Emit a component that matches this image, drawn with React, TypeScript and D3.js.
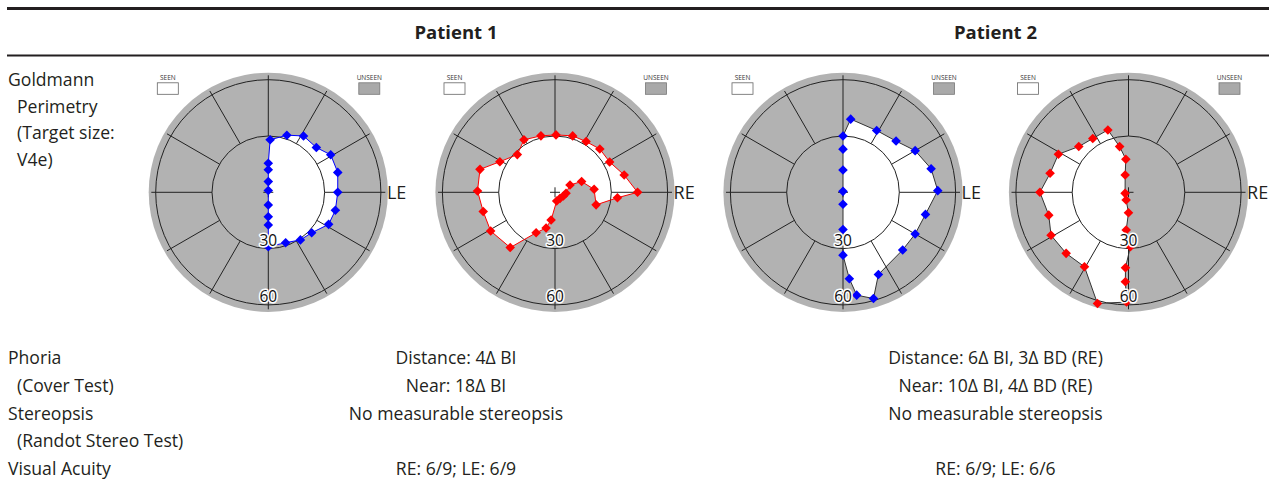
import React from "react";
import * as d3 from "d3";

type Pt = [number, number]; // [meridian angle in degrees (0 = right, 90 = up), eccentricity in degrees]

const patients = ["Patient 1", "Patient 2"];
const eyeLabels = ["LE", "RE", "LE", "RE"];
const ringTicks = [30, 60];
const spokeAngles = [0, 30, 60, 90, 120, 150, 180, 210, 240, 270, 300, 330];

// Patient 1, left eye
const p1LE: Pt[] = [
  [88, 28], [72, 32], [58, 35.4], [43, 35], [31, 38.8], [16, 38.5], [0, 37],
  [-15, 37], [-28, 36.4], [-43, 31.6], [-56, 30.6], [-71, 28.4], [-90, 29],
  [-90, 17.4], [-90, 13], [-90, 6.8], [90, 1], [90, 5.7], [90, 12], [90, 15.5],
];
// Patient 1, right eye
const p1RE: Pt[] = [
  [0, 44], [14, 38], [29, 33.3], [44, 33.2], [58.5, 31.7], [72.6, 31.5], [89, 30.6],
  [104, 31], [120.6, 32.5], [135, 28.4], [151, 33.6], [163, 41.8], [179, 41.3],
  [195, 39.6], [211, 40], [231, 37.9], [245, 23.8], [256, 19.6], [262, 14.9],
  [281, 4.7], [310, 4.2], [336, 4.9], [355, 5.9], [26, 8.9], [22, 15.3],
  [4.4, 20.9], [-17, 22.9], [-5, 33.4],
];
// Patient 2, left eye
const p2LE: Pt[] = [
  [84, 39.2], [61.4, 37.5], [44, 39.3], [30, 44.4], [15, 48.6], [1, 50.5],
  [-15, 45.5], [-30, 44.4], [-44, 44.2], [-66.7, 47.7], [-74, 58.9], [-82.4, 55.3],
  [-85.8, 46.2], [-90, 33.5], [-90, 19.8], [-90, 6.4], [90, 0.5], [90, 11.9],
  [90, 23], [90, 30],
];
// Patient 2, right eye
const p2RE: Pt[] = [
  [108.3, 35], [123.6, 34.4], [137.4, 36], [151.5, 42.5], [166.4, 43], [180, 47.2],
  [196, 44.2], [209, 47.2], [224.4, 46.5], [239.4, 46.1], [254.4, 61.5], [269, 58.5],
  [268, 47.7], [267.7, 40.2], [272, 29], [266.5, 20.1], [270, 10.9], [253, 4.3],
  [197, 1.9], [100.9, 9.4], [94.6, 17.7], [101, 24.8],
];

const fields = [p1LE, p1RE, p2LE, p2RE];
const markerColors = ["#0000ff", "#ff0000", "#0000ff", "#ff0000"];
const lineColors = ["#0000ff", "#ff0000", "#333333", "#333333"];

const goldmannLabel = ["Goldmann", "Perimetry", "(Target size:", "V4e)"];
const rowLabels = ["Phoria", "(Cover Test)", "Stereopsis", "(Randot Stereo Test)", "Visual Acuity"];
const rowIndent = [false, true, false, true, false];
const p1Rows = ["Distance: 4\u0394 BI", "Near: 18\u0394 BI", "No measurable stereopsis", "", "RE: 6/9; LE: 6/9"];
const p2Rows = ["Distance: 6\u0394 BI, 3\u0394 BD (RE)", "Near: 10\u0394 BI, 4\u0394 BD (RE)", "No measurable stereopsis", "", "RE: 6/9; LE: 6/6"];
const patientRows = [p1Rows, p2Rows];

const FONT = "'Open Sans', 'Noto Sans', sans-serif";
const TEXT = "#231f20";
const GRAY = "#b2b2b2";
const BODY_SIZE = 17.6;

const chartCx = [268.3, 555, 843, 1128.5];
const chartCy = 192.3;
const patientCx = [456, 995.5];

const rScale = d3.scaleLinear().domain([0, 60]).range([0, 112.6]);
const DISC_R = 119.6;
const SPOKE_R = 117;
const toAngle = (deg: number) => ((90 - deg) * Math.PI) / 180;

function Field({ i }: { i: number }) {
  const cx = chartCx[i];
  const cy = chartCy;
  const pts = fields[i];
  const line = d3
    .lineRadial<Pt>()
    .angle((d) => toAngle(d[0]))
    .radius((d) => rScale(d[1]))
    .curve(d3.curveLinearClosed);
  const diamond = d3.symbol().type(d3.symbolSquare).size(46)() as string;
  const inner = rScale(30);
  return (
    <g transform={`translate(${cx},${cy})`}>
      <circle r={DISC_R} fill={GRAY} />
      <path d={line(pts) as string} fill="#ffffff" stroke="none" />
      {ringTicks.map((t) => (
        <circle key={t} r={rScale(t)} fill="none" stroke="#222" strokeWidth={1} />
      ))}
      {spokeAngles.map((a) => {
        const [x1, y1] = d3.pointRadial(toAngle(a), inner);
        const [x2, y2] = d3.pointRadial(toAngle(a), SPOKE_R);
        return <line key={a} x1={x1} y1={y1} x2={x2} y2={y2} stroke="#222" strokeWidth={1} />;
      })}
      <line x1={-5} x2={5} y1={0} y2={0} stroke="#222" strokeWidth={1} />
      <line x1={0} x2={0} y1={-5} y2={5} stroke="#222" strokeWidth={1} />
      <path d={line(pts) as string} fill="none" stroke={lineColors[i]} strokeWidth={1} />
      {pts.map((d, k) => {
        const [x, y] = d3.pointRadial(toAngle(d[0]), rScale(d[1]));
        return (
          <path key={k} d={diamond} transform={`translate(${x},${y}) rotate(45)`} fill={markerColors[i]} />
        );
      })}
      {ringTicks.map((t) => (
        <text
          key={t}
          x={0}
          y={rScale(t) - 3}
          textAnchor="middle"
          fontFamily={FONT}
          fontSize={15.5}
          fill="#111"
          stroke="#fff"
          strokeWidth={3}
          paintOrder="stroke"
          strokeLinejoin="round"
        >
          {t}
        </text>
      ))}
      <text x={DISC_R - 1} y={6.5} fontFamily={FONT} fontSize={18} fill={TEXT}>
        {eyeLabels[i]}
      </text>
      {/* legend */}
      <text x={-100.5} y={-112.5} textAnchor="middle" fontFamily={FONT} fontSize={6.5} fill="#333">
        SEEN
      </text>
      <rect x={-111} y={-109.5} width={21} height={11.5} fill="#fff" stroke="#666" strokeWidth={0.8} />
      <text x={101} y={-112.5} textAnchor="middle" fontFamily={FONT} fontSize={6.5} fill="#333">
        UNSEEN
      </text>
      <rect x={90.5} y={-109.5} width={21} height={11.5} fill="#a9a9a9" stroke="#777" strokeWidth={0.8} />
    </g>
  );
}

export default function App() {
  return (
    <svg
      width={1269}
      height={489}
      style={{ position: "absolute", left: 0, top: 0, background: "#fff" }}
    >
      <line x1={7} x2={1269} y1={8.5} y2={8.5} stroke={TEXT} strokeWidth={3} />
      <line x1={7} x2={1269} y1={55.5} y2={55.5} stroke={TEXT} strokeWidth={2} />
      {patients.map((p, k) => (
        <text key={p} x={patientCx[k]} y={39} textAnchor="middle" fontFamily={FONT} fontWeight={700} fontSize={18.5} fill={TEXT}>
          {p}
        </text>
      ))}
      {goldmannLabel.map((s, k) => (
        <text key={s} x={k === 0 ? 8 : 17} y={86 + k * 26.5} fontFamily={FONT} fontSize={BODY_SIZE} fill={TEXT}>
          {s}
        </text>
      ))}
      {fields.map((_, i) => (
        <Field key={i} i={i} />
      ))}
      {rowLabels.map((s, k) => (
        <text key={s} x={rowIndent[k] ? 17 : 8} y={364 + k * 27.8} fontFamily={FONT} fontSize={BODY_SIZE} fill={TEXT}>
          {s}
        </text>
      ))}
      {patientRows.map((rows, pi) =>
        rows.map((s, k) =>
          s ? (
            <text key={`${pi}-${k}`} x={patientCx[pi]} y={364 + k * 27.8} textAnchor="middle" fontFamily={FONT} fontSize={BODY_SIZE} fill={TEXT}>
              {s}
            </text>
          ) : null
        )
      )}
    </svg>
  );
}
